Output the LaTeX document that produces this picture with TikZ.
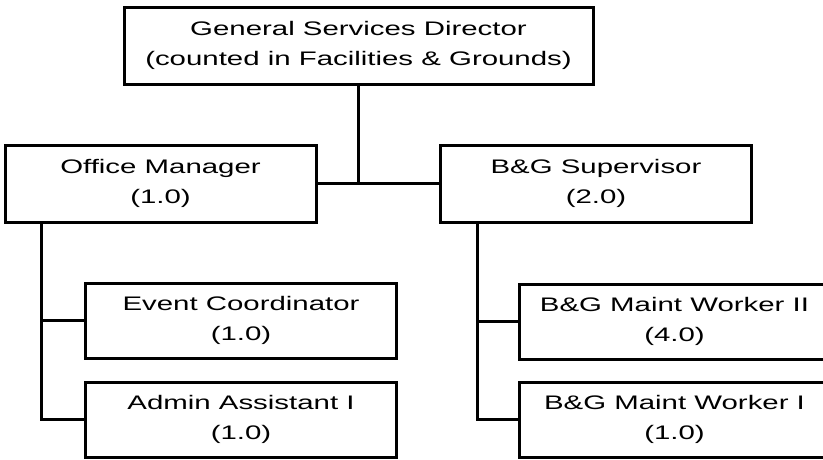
\documentclass[tikz,border=0pt]{standalone}
\usepackage{fontspec}
\setmainfont{Liberation Sans}[FakeStretch=1.5]
\begin{document}
\begin{tikzpicture}[x=1pt,y=-1pt,
  box/.style={draw=black,line width=3pt,fill=white,rectangle,inner sep=0pt,
    align=center,font=\fontsize{19.6}{30}\selectfont},
  wide/.style={box,minimum width=469pt,minimum height=77pt},
  mid/.style={box,minimum width=311pt,minimum height=77pt},
  low/.style={box,minimum width=311pt,minimum height=75pt},
  link/.style={draw=black,line width=3pt}]
\useasboundingbox (0,0) rectangle (823,459);
\clip (0,0) rectangle (823,459);
\fill[white] (0,0) rectangle (823,459);
\node[wide] (gsd) at (358.5,45.5) {General Services Director\\(counted in Facilities \& Grounds)};
\node[mid] (om) at (160.5,183.5) {Office Manager\\(1.0)};
\node[mid] (bgs) at (596,183.5) {B\&G Supervisor\\(2.0)};
\node[low] (ec) at (241,320.5) {Event Coordinator\\(1.0)};
\node[low] (aa) at (241,419.5) {Admin Assistant I\\(1.0)};
\node[low] (w2) at (674.5,321.5) {B\&G Maint Worker II\\(4.0)};
\node[low] (w1) at (674.5,419.5) {B\&G Maint Worker I\\(1.0)};
\coordinate (lt) at ([xshift=38pt]om.south west);
\coordinate (rt) at ([xshift=38pt]bgs.south west);
\draw[link,line width=3.5pt] (gsd.south) -- (gsd.south |- om.east);
\draw[link] (om.east) -- (bgs.west);
\draw[link] (lt) |- (aa.west);
\draw[link] (lt |- ec.west) -- (ec.west);
\draw[link] (rt) |- (w1.west);
\draw[link] (rt |- w2.west) -- (w2.west);
\end{tikzpicture}
\end{document}
